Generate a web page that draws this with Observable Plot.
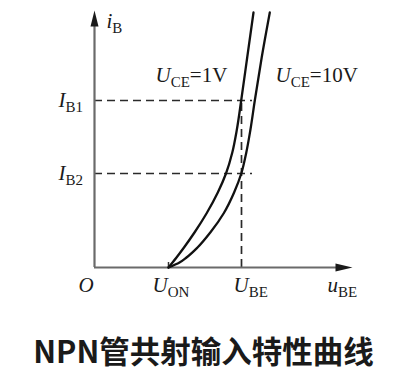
<!DOCTYPE html>
<html><head><meta charset="utf-8">
<script src="https://cdn.jsdelivr.net/npm/d3@7"></script>
<script src="https://cdn.jsdelivr.net/npm/@observablehq/plot@0.6"></script>
<style>
body{margin:0;background:#fff;width:400px;}
#title{font-family:"Noto Sans CJK SC","Noto Sans",sans-serif;font-weight:700;font-size:30.5px;color:#1a1a1a;text-align:center;height:61px;line-height:61px;padding-left:7px;box-sizing:border-box;width:400px;white-space:nowrap;}
</style></head><body><div id="chart"></div><div id="title">NPN管共射输入特性曲线</div>
<script>
// Curves (arbitrary units): u_BE vs i_B
const seriesNames = ["UCE=1V", "UCE=10V"];
const uBE_1V  = [74, 82, 89.5, 100, 112, 123.3, 131.5, 137.8, 142.2, 146.7, 152.7, 159];
const iB_1V   = [0, 10, 20, 35, 54, 75, 94, 115, 137, 167, 210, 255];
const uBE_10V = [74, 85, 92, 103, 115.8, 129.1, 139.6, 146.8, 151.8, 155.8, 160.3, 167.2, 175.3];
const iB_10V  = [0, 5, 10, 20, 35, 54, 75, 94, 115, 137, 167, 210, 255];

// Reference levels
const uON = 74;
const uBEop = 147;
const IB1 = 167;
const IB2 = 94;
const dashEnd = 158;
const xMax = 258;
const yMax = 257;

// Labels: "main|subscript|rest"
const labelText = ["i|B", "U|CE|=1V", "U|CE|=10V", "I|B1", "I|B2", "O|", "U|ON", "U|BE", "u|BE"];
const labelX = [12, 61, 181, -36, -36, -16, 58, 139, 233];
const labelY = [246, 192, 192, IB1, IB2, -18, -18, -18, -18];

const curves = [
  ...uBE_1V.map((u, i) => ({series: seriesNames[0], u, ib: iB_1V[i]})),
  ...uBE_10V.map((u, i) => ({series: seriesNames[1], u, ib: iB_10V[i]}))
];
const labels = labelText.map((t, i) => ({t, x: labelX[i], y: labelY[i]}));

const upHead = {draw(ctx){ ctx.moveTo(0,0); ctx.lineTo(-4,16); ctx.lineTo(4,16); ctx.closePath(); }};
const rightHead = {draw(ctx){ ctx.moveTo(0,0); ctx.lineTo(-17,-4); ctx.lineTo(-17,4); ctx.closePath(); }};

const svg = Plot.plot({
  width: 400, height: 320,
  marginLeft: 94, marginRight: 48, marginTop: 10, marginBottom: 53,
  x: {domain: [0, xMax], axis: null},
  y: {domain: [0, yMax], axis: null},
  style: {fontFamily: "'Liberation Serif', serif", color: "#1a1a1a", background: "#fff", overflow: "visible"},
  marks: [
    // dashed guides
    Plot.ruleY([IB1, IB2], {x1: 0, x2: dashEnd, stroke: "#2a2a2a", strokeWidth: 1.7, strokeDasharray: "8,5"}),
    Plot.ruleX([uBEop], {y1: 0, y2: IB1, stroke: "#2a2a2a", strokeWidth: 1.7, strokeDasharray: "8,5"}),
    // axes
    Plot.ruleY([0], {x1: 0, x2: xMax - 8, stroke: "#6a6a6a", strokeWidth: 2.2}),
    Plot.ruleX([0], {y1: 0, y2: yMax - 8, stroke: "#6a6a6a", strokeWidth: 2.2}),
    Plot.ruleX([uON], {y1: 0, y2: 5, stroke: "#333", strokeWidth: 1.5}),
    Plot.dot([[0, yMax]], {x: d => d[0], y: d => d[1], symbol: upHead, fill: "#1a1a1a", stroke: "none"}),
    Plot.dot([[xMax, 0]], {x: d => d[0], y: d => d[1], symbol: rightHead, fill: "#1a1a1a", stroke: "none"}),
    // curves
    Plot.line(curves, {x: "u", y: "ib", z: "series", curve: "monotone-y", stroke: "#111", strokeWidth: 2.3}),
    // labels
    Plot.text(labels, {x: "x", y: "y", text: "t", textAnchor: "start", fontSize: 21, fill: "#1a1a1a"})
  ]
});

d3.select(svg).selectAll("text").each(function(){
  const s = this.textContent;
  if (!s.includes("|")) return;
  const [main, sub, rest] = s.split("|");
  this.textContent = "";
  const sel = d3.select(this);
  sel.append("tspan").attr("font-style", "italic").text(main);
  if (sub) sel.append("tspan").attr("font-size", 15).attr("dy", 5).text(sub);
  if (rest) sel.append("tspan").attr("dy", -5).text(rest);
});

document.getElementById("chart").appendChild(svg);
</script>
</body></html>
